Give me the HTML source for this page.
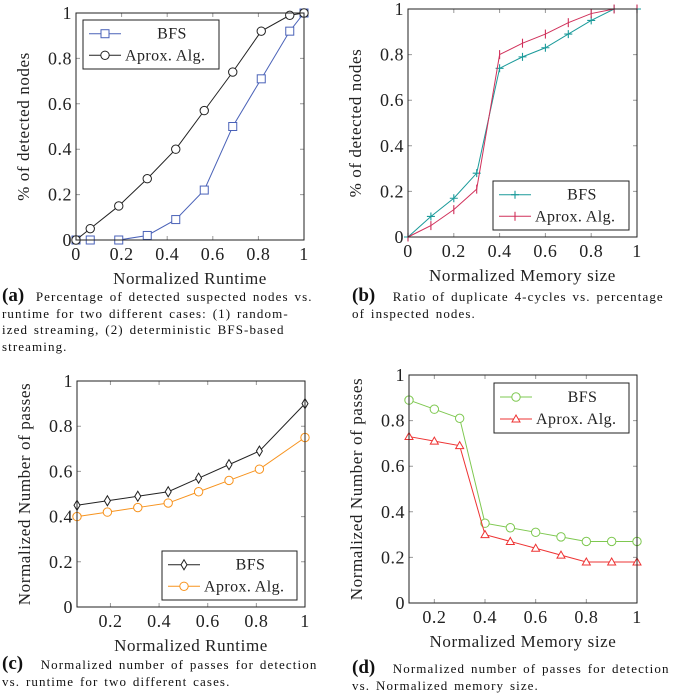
<!DOCTYPE html>
<html><head><meta charset="utf-8"><style>
body{margin:0;background:#fff;width:685px;height:695px;overflow:hidden;font-family:"Liberation Serif",serif}
svg{position:absolute;left:0;top:0;font-family:"Liberation Serif",serif}
svg text{font-family:"Liberation Serif",serif}
.cap{position:absolute;font-size:13px;line-height:16.5px;color:#111;font-family:"Liberation Serif",serif;letter-spacing:1.1px;word-spacing:1.5px;white-space:nowrap}
.cap b{font-size:19px;font-weight:bold;letter-spacing:0}
</style></head><body>
<svg id="s" width="685" height="695"></svg>
<div class="cap" style="left:2px;top:288px"><b>(a)</b> &nbsp;Percentage of detected suspected nodes vs.<br>runtime for two different cases: (1) random-<br>ized streaming, (2) deterministic BFS-based<br>streaming.</div>
<div class="cap" style="left:352px;top:288px"><b>(b)</b> &nbsp;&nbsp;Ratio of duplicate 4-cycles vs. percentage<br>of inspected nodes.</div>
<div class="cap" style="left:2px;top:656px"><b>(c)</b> &nbsp;&nbsp;Normalized number of passes for detection<br>vs. runtime for two different cases.</div>
<div class="cap" style="left:352px;top:660px"><b>(d)</b> &nbsp;&nbsp;Normalized number of passes for detection<br>vs. Normalized memory size.</div>
<script>
const aX=[0,0.0625,0.1875,0.3125,0.4375,0.5625,0.6875,0.8125,0.9375,1];
const aBFS=[0,0,0,0.02,0.09,0.22,0.5,0.71,0.92,1];
const aApx=[0,0.05,0.15,0.27,0.4,0.57,0.74,0.92,0.99,1];
const bX=[0,0.1,0.2,0.3,0.4,0.5,0.6,0.7,0.8,0.9,1];
const bBFS=[0,0.09,0.17,0.28,0.74,0.79,0.83,0.89,0.95,1,1];
const bApx=[0,0.05,0.12,0.21,0.80,0.85,0.89,0.94,0.98,1,1];
const cX=[0.0625,0.1875,0.3125,0.4375,0.5625,0.6875,0.8125,1];
const cBFS=[0.45,0.47,0.49,0.51,0.57,0.63,0.69,0.9];
const cApx=[0.40,0.42,0.44,0.46,0.51,0.56,0.61,0.75];
const dX=[0.1,0.2,0.3,0.4,0.5,0.6,0.7,0.8,0.9,1];
const dBFS=[0.89,0.85,0.81,0.35,0.33,0.31,0.29,0.27,0.27,0.27];
const dApx=[0.73,0.71,0.69,0.30,0.27,0.24,0.21,0.18,0.18,0.18];
const ticksFull=[0,0.2,0.4,0.6,0.8,1];
const ticksC=[0.2,0.4,0.6,0.8,1];
const tickLbl=v=>v===0?"0":v===1?"1":v.toFixed(1);
const S=document.getElementById('s');const NS='http://www.w3.org/2000/svg';
function el(t,a,p){const e=document.createElementNS(NS,t);for(const k in a)e.setAttribute(k,a[k]);(p||S).appendChild(e);return e;}
function marker(g,type,x,y,col){
 if(type==='sq')return el('rect',{x:x-4,y:y-4,width:8,height:8,fill:'#fff',stroke:col,'stroke-width':1},g);
 if(type==='o')return el('circle',{cx:x,cy:y,r:4.2,fill:'#fff',stroke:col,'stroke-width':1},g);
 if(type==='+')return el('path',{d:`M${x-4},${y}H${x+4}M${x},${y-4}V${y+4}`,stroke:col,'stroke-width':1.1,fill:'none'},g);
 if(type==='|')return el('path',{d:`M${x},${y-4.5}V${y+4.5}`,stroke:col,'stroke-width':1.1,fill:'none'},g);
 if(type==='d')return el('path',{d:`M${x},${y-5}L${x+3},${y}L${x},${y+5}L${x-3},${y}Z`,fill:'#fff',stroke:col,'stroke-width':1},g);
 if(type==='t')return el('path',{d:`M${x},${y-4}L${x+4},${y+3}L${x-4},${y+3}Z`,fill:'#fff',stroke:col,'stroke-width':1},g);
}
function chart(o){
 const g=el('g',{});
 const sx=v=>o.x0+(v-o.xmin)/(o.xmax-o.xmin)*(o.x1-o.x0);
 const sy=v=>o.y1-(v)*(o.y1-o.y0);
 o.xt.forEach(t=>{const x=sx(t);
  el('path',{d:`M${x},${o.y1}v-4M${x},${o.y0}v4`,stroke:'#999','stroke-width':1},g);
  const tx=el('text',{x:x,y:o.y1+20,'font-size':18,'text-anchor':'middle',fill:'#222','letter-spacing':0.5},g);tx.textContent=tickLbl(t);
  });
 ticksFull.forEach(t=>{const y=sy(t);
  el('path',{d:`M${o.x0},${y}h4M${o.x1},${y}h-4`,stroke:'#999','stroke-width':1},g);
  const tx=el('text',{x:o.x0-4,y:y+6,'font-size':18,'text-anchor':'end',fill:'#222','letter-spacing':0.5},g);tx.textContent=tickLbl(t);
  });
 const xt=el('text',{x:(o.x0+o.x1)/2,y:o.y1+44,'font-size':17,'text-anchor':'middle',fill:'#222','letter-spacing':0.6},g);xt.textContent=o.xlabel;
 
 const yc=(o.y0+o.y1)/2,yx=o.x0-47;
 const yt=el('text',{x:yx,y:yc,'font-size':17,'text-anchor':'middle',fill:'#222','letter-spacing':0.6,transform:`rotate(-90 ${yx} ${yc})`},g);yt.textContent=o.ylabel;
 
 o.series.forEach(s=>{
  const sg=el('g',{},g);
  const pts=o.xs.map((v,i)=>sx(v)+','+sy(s.v[i])).join(' ');
  el('polyline',{points:pts,fill:'none',stroke:s.col,'stroke-width':1},sg);
  o.xs.forEach((v,i)=>marker(sg,s.m,sx(v),sy(s.v[i]),s.col));
 });
 el('rect',{x:o.x0,y:o.y0,width:o.x1-o.x0,height:o.y1-o.y0,fill:'none',stroke:'#222','stroke-width':1},g);
 const L=o.leg;const lg=el('g',{},g);
 el('rect',{x:L[0],y:L[1],width:L[2]-L[0],height:L[3]-L[1],fill:'#fff',stroke:'#222','stroke-width':1},lg);
 o.series.forEach((s,i)=>{const y=L[1]+(L[3]-L[1])*(i===0?0.28:0.72);
  el('path',{d:`M${L[0]+6},${y}h32`,stroke:s.col,'stroke-width':1},lg);marker(lg,s.m,L[0]+22,y,s.col);
  const t=el('text',{x:i===0?(L[0]+42+L[2])/2:L[0]+42,y:y+5,'font-size':16,'text-anchor':i===0?'middle':'start',fill:'#222','letter-spacing':0.4},lg);t.textContent=s.label;
  });
}
chart({name:'chart-a',x0:76,x1:304,y0:13,y1:240,xmin:0,xmax:1,xt:ticksFull,xs:aX,xlabel:'Normalized Runtime',ylabel:'% of detected nodes',leg:[83,20,219,69],
 series:[{name:'series-bfs',label:'BFS',v:aBFS,col:'#4a62b8',m:'sq'},{name:'series-aprox',label:'Aprox. Alg.',v:aApx,col:'#222',m:'o'}]});
chart({name:'chart-b',x0:408,x1:637,y0:9,y1:237,xmin:0,xmax:1,xt:ticksFull,xs:bX,xlabel:'Normalized Memory size',ylabel:'% of detected nodes',leg:[493,181,629,230],
 series:[{name:'series-bfs',label:'BFS',v:bBFS,col:'#1a9a9a',m:'+'},{name:'series-aprox',label:'Aprox. Alg.',v:bApx,col:'#d0305a',m:'|'}]});
chart({name:'chart-c',x0:77,x1:305,y0:381,y1:607,xmin:0.0625,xmax:1,xt:ticksC,xs:cX,xlabel:'Normalized Runtime',ylabel:'Normalized Number of passes',leg:[162,551,297,600],
 series:[{name:'series-bfs',label:'BFS',v:cBFS,col:'#222',m:'d'},{name:'series-aprox',label:'Aprox. Alg.',v:cApx,col:'#f7931e',m:'o'}]});
chart({name:'chart-d',x0:409,x1:637,y0:375,y1:603,xmin:0.1,xmax:1,xt:ticksC,xs:dX,xlabel:'Normalized Memory size',ylabel:'Normalized Number of passes',leg:[494,383,629,433],
 series:[{name:'series-bfs',label:'BFS',v:dBFS,col:'#7ec850',m:'o'},{name:'series-aprox',label:'Aprox. Alg.',v:dApx,col:'#ee3333',m:'t'}]});
</script>
</body></html>
